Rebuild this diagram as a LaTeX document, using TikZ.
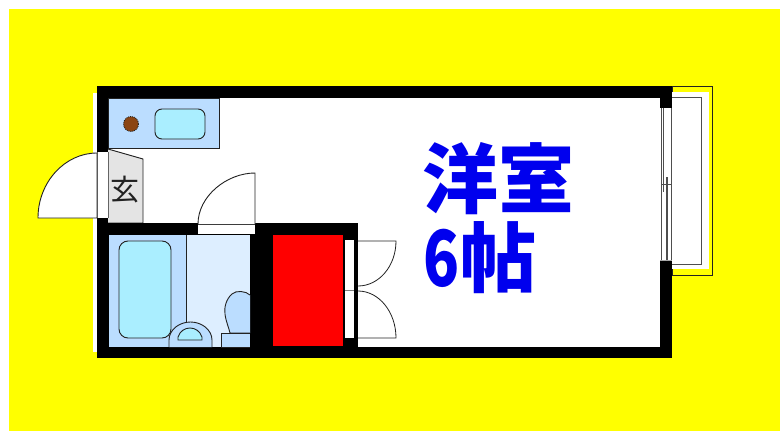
\documentclass[tikz,border=0pt]{standalone}
\usepackage{graphicx}
\usepackage{fontspec}
\newfontfamily\jpfont[BoldFont={Noto Sans CJK JP Black}]{Noto Sans CJK JP}
\definecolor{yel}{HTML}{FFFF00}
\definecolor{blueA}{HTML}{BBDDFF}
\definecolor{blueB}{HTML}{DDEEFF}
\definecolor{aqua}{HTML}{AAEEFF}
\definecolor{grayE}{HTML}{E4E4E4}
\definecolor{linedk}{HTML}{222222}
\definecolor{roomblue}{HTML}{0000EE}
\definecolor{burner}{HTML}{8B4513}
\tikzset{
  wall/.style={fill=black,draw=none},
  blank/.style={fill=white,draw=none},
  fix/.style={draw=linedk,line width=0.9pt},
  doorline/.style={draw=linedk,line width=0.9pt,fill=white},
  win/.style={draw=linedk!80,line width=0.8pt},
  roomtext/.style={font=\jpfont\bfseries\fontsize{76}{76}\selectfont,text=roomblue,inner sep=0pt,anchor=base west}
}
\begin{document}
\begin{tikzpicture}[x=1pt,y=-1pt]
\useasboundingbox (0,0) rectangle (780,431);
\fill[white] (0,0) rectangle (780,431);
\fill[yel] (9,9) rectangle (780,431);
% balcony
\draw[draw=linedk,line width=0.9pt,fill=yel] (672,86) rectangle (712,275);
\fill[white] (672,92) rectangle (709,269);
\draw[win,line width=1pt] (672,97) -- (701,97) -- (701,264) -- (672,264);
% outer walls
\fill[white] (93,93) rectangle (97,352);
\fill[wall] (97,86) rectangle (672,358);
\fill[blank] (108,98) rectangle (660,347);
% window
\fill[blank] (660,108) rectangle (672,260);
\draw[win] (661,108) -- (661,260) (671,108) -- (671,260);
\draw[win,line width=1.1pt] (663.5,108) -- (663.5,192);
\draw[win,line width=1.1pt] (667,177) -- (667,260);
\draw[win] (661,184) -- (671,184);
\draw[gray!70,line width=0.8pt] (660,260) -- (672,260);
% kitchen
\draw[fix,fill=blueA] (108,98) rectangle (219,148);
\draw[fix,fill=aqua,rounded corners=7pt] (155,109) rectangle (205,139);
\draw[fix,fill=burner,densely dotted] (131,124) circle (7.5);
% entry
\draw[fix,fill=grayE] (108,149) -- (143,159) -- (143,223) -- (108,223);
\node[font=\jpfont\fontsize{29}{29}\selectfont,text=linedk,inner sep=0pt] (genkan) at (125,190) {玄};
% entrance door
\fill[blank] (97,152) rectangle (108,218);
\draw[draw=linedk!70,line width=0.7pt] (97,152) -- (97,218) (108,152) -- (108,218);
\draw[doorline] (97,153) .. controls (65,153) and (38,182) .. (38,218) -- (97,218) -- cycle;
% bath block
\fill[wall] (97,223) rectangle (358,358);
\fill[blank] (198,224) rectangle (255,234);
\draw[draw=linedk,line width=0.8pt] (198,224) -- (255,224);
\draw[doorline] (255,224) -- (255,173) .. controls (227,173) and (198,196) .. (198,224);
\fill[blueB] (186,235) rectangle (250,347);
\fill[blueA] (109,235) rectangle (186,347);
\draw[fix] (186,235) -- (186,322);
\draw[fix,fill=aqua,rounded corners=9pt] (119,241) rectangle (171,338);
% basin
\draw[fix,fill=blueA] (169,347) -- (169,340) .. controls (169,330) and (179,322) .. (190.5,322) .. controls (202,322) and (212,330) .. (212,340) -- (212,347);
\draw[fix,fill=aqua] (178,340) -- (178,337) .. controls (180,331) and (185,328) .. (190,328) .. controls (195,328) and (200,331) .. (202,337) -- (202,340) -- cycle;
% toilet
\draw[fix,fill=blueA] (250,295) .. controls (246,291) and (236,290) .. (232,294) .. controls (226,299) and (224,308) .. (225,314) .. controls (226,322) and (229,328) .. (230,333) -- (250,333);
\draw[fix,fill=blueA] (250,333) -- (221,333) -- (221,347) -- (250,347);
% closet
\fill[red] (273,235) rectangle (343,346);
\fill[blank] (345,240) rectangle (354,338);
\draw[draw=gray,line width=0.8pt] (345,290) -- (354,290);
\draw[draw=linedk,line width=0.8pt] (358,241) -- (396,241) .. controls (396,266) and (379,286) .. (358,286);
\draw[draw=linedk,line width=0.8pt] (358,338) -- (396,338) .. controls (396,312) and (379,291) .. (358,291);
% text
\node[roomtext] (room) at (422,207) {洋室};
\node[roomtext] (size) at (423,286) {\scalebox{0.78}[1.02]{6}\kern1pt 帖};
\end{tikzpicture}
\end{document}
